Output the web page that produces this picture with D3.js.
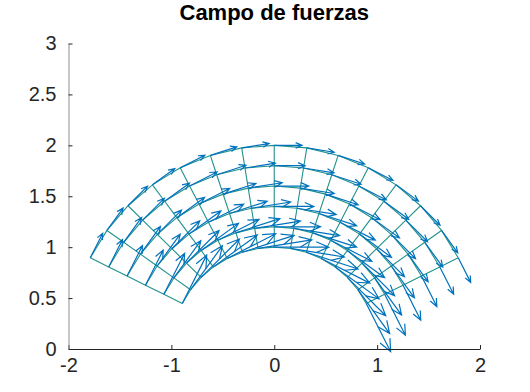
<!DOCTYPE html>
<html>
<head>
<meta charset="utf-8">
<script src="https://cdn.jsdelivr.net/npm/d3@7"></script>
<style>
  body { margin: 0; background: #fff; }
  svg { display: block; font-family: "Liberation Sans", Arial, sans-serif; }
</style>
</head>
<body>
<svg id="chart" width="530" height="392"></svg>
<script>
// polar grid: rings and spokes (angles in degrees)
const radii = [1, 1.2, 1.4, 1.6, 1.8, 2];
const anglesDeg = [26.6, 35.6, 44.7, 53.7, 62.8, 71.9, 80.9, 90, 99.1, 108.1, 117.2, 126.3, 135.3, 144.4, 153.4];
// arrow length on each ring (data units)
const arrowLen = [0.53, 0.45, 0.385, 0.335, 0.30, 0.27];
const xTicks = [-2, -1, 0, 1, 2];
const yTicks = [0, 0.5, 1, 1.5, 2, 2.5, 3];
const title = "Campo de fuerzas";

const meshColor = "#21918c";
const arrowColor = "#0072bd";

const svg = d3.select("#chart");
const x = d3.scaleLinear().domain([-2, 2]).range([68.5, 480]);
const y = d3.scaleLinear().domain([0, 3]).range([349, 43.5]);

const rad = d => d * Math.PI / 180;
const pt = (r, a) => [r * Math.cos(rad(a)), r * Math.sin(rad(a))];
const line = d3.line().x(d => x(d[0])).y(d => y(d[1]));

// mesh
const mesh = svg.append("g").attr("fill", "none").attr("stroke", meshColor).attr("stroke-width", 1.1);
radii.forEach(r => {
    mesh.append("path").attr("d", line(anglesDeg.map(a => pt(r, a))));
});
anglesDeg.forEach(a => {
    mesh.append("path").attr("d", line(radii.map(r => pt(r, a))));
});

// quiver (tangential, clockwise)
const arrows = [];
radii.forEach((r, i) => {
    anglesDeg.forEach(a => {
        arrows.push({ r: r, a: a, len: arrowLen[i] });
    });
});

const arrowPath = d => {
    const [bx, by] = pt(d.r, d.a);
    const ux = Math.sin(rad(d.a)) * d.len, uy = -Math.cos(rad(d.a)) * d.len;
    const tx = bx + ux, ty = by + uy;
    const hx = bx + ux * 0.77, hy = by + uy * 0.77;
    const wx = -uy * 0.1, wy = ux * 0.1;
    return "M" + x(bx) + "," + y(by) + "L" + x(tx) + "," + y(ty) +
        "M" + x(hx + wx) + "," + y(hy + wy) + "L" + x(tx) + "," + y(ty) +
        "L" + x(hx - wx) + "," + y(hy - wy);
};

svg.append("g").attr("fill", "none").attr("stroke", arrowColor).attr("stroke-width", 1.2)
    .selectAll("path").data(arrows).join("path")
    .attr("d", arrowPath);

// axes
const xAxis = svg.append("g").attr("transform", "translate(0,349)")
    .call(d3.axisBottom(x).tickValues(xTicks).tickFormat(d => String(d)).tickSizeInner(-4).tickSizeOuter(0).tickPadding(9));
const yAxis = svg.append("g").attr("transform", "translate(68.5,0)")
    .call(d3.axisLeft(y).tickValues(yTicks).tickFormat(d => String(d)).tickSizeInner(-4).tickSizeOuter(0).tickPadding(12));

[xAxis, yAxis].forEach(g => {
    g.attr("font-family", null).attr("font-size", null);
    g.selectAll("text").attr("font-size", 20).attr("fill", "#262626");
    g.selectAll(".tick line").attr("stroke", "#262626");
});
xAxis.select(".domain").attr("stroke", "#262626");
yAxis.select(".domain").attr("stroke", "#8f8f8f");
xAxis.selectAll("text").attr("dy", "0.71em");

svg.append("text")
    .attr("x", 274.25).attr("y", 20)
    .attr("text-anchor", "middle")
    .attr("font-size", 22).attr("font-weight", "bold")
    .text(title);
</script>
</body>
</html>
